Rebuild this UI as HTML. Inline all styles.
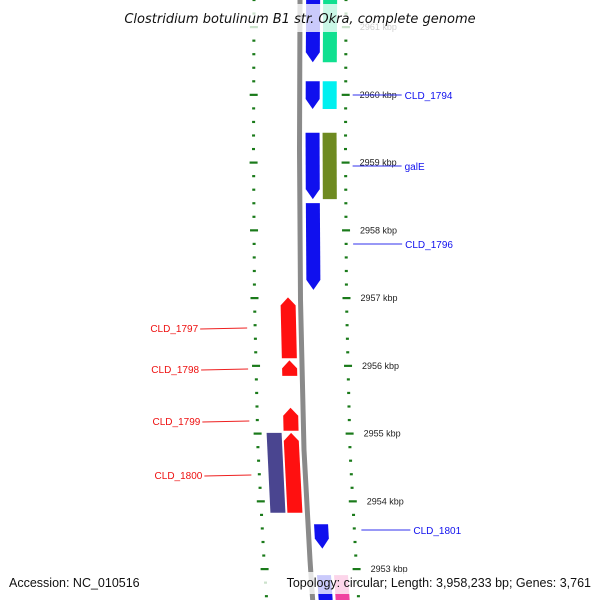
<!DOCTYPE html>
<html><head><meta charset="utf-8"><style>
html,body{margin:0;padding:0;background:#fff;width:600px;height:600px;overflow:hidden;}
svg{display:block;font-family:"Liberation Sans","DejaVu Sans",sans-serif;}
</style></head><body>
<svg id="c" width="600" height="600" viewBox="0 0 600 600">
<g id="g"></g>
</svg>
<script>
// data (kbp)
const tickKbp = [2961,2960,2959,2958,2957,2956,2955,2954,2953];
const geneNames = ["CLD_1793","CLD_1794","galE","CLD_1796","CLD_1797","CLD_1798","CLD_1799","CLD_1800","CLD_1801","CLD_1802"];
const geneStart = [2960.48,2959.79,2958.46,2957.12,2956.11,2955.85,2955.04,2953.83,2953.30,2952.40];
const geneEnd   = [2961.50,2960.20,2959.44,2958.40,2957.01,2956.08,2955.38,2955.01,2953.66,2952.91];
const geneStrand= [-1,-1,-1,-1,1,1,1,1,-1,-1];
const geneLabeled=[false,true,true,true,true,true,true,true,true,false];
const cogColor  = ["#10e090","#00f0f0","#6e8a20",null,null,null,null,null,null,"#f040a0"];
const extraStart=[2953.83];
const extraEnd  =[2955.01];
const labelY = {"CLD_1794":95,"galE":166,"CLD_1796":244,"CLD_1797":328,"CLD_1798":369,"CLD_1799":421,"CLD_1800":475,"CLD_1801":530};

const NS="http://www.w3.org/2000/svg";
const g=document.getElementById('g');
function yOf(k){return 27+(2961-k)*67.75;}
const bbPts=[[-20,300.5],[0,300],[150,299.5],[300,300.5],[450,304],[560,310],[620,314]];
function bb(y){for(let i=0;i<bbPts.length-1;i++){const a=bbPts[i],b=bbPts[i+1];if(y<=b[0]||i==bbPts.length-2){const t=(y-a[0])/(b[0]-a[0]);return a[1]+t*(b[1]-a[1]);}}}
function mk(tag,at,txt){const e=document.createElementNS(NS,tag);for(const k in at)e.setAttribute(k,at[k]);if(txt!=null)e.textContent=txt;g.appendChild(e);return e;}

let pts=[];for(let y=-10;y<=610;y+=10)pts.push(bb(y)+','+y);
let e=mk('polyline',{points:pts.join(' '),fill:'none',stroke:'#8a8a8a','stroke-width':5});


for(let k=2962.4;k>=2952.0;k-=0.2){
  const kr=Math.round(k*5)/5;const y=yOf(kr);const major=Math.abs(kr-Math.round(kr))<0.01;
  const xr=bb(y)+46, xl=bb(y)-46;
  const w=major?8:3;
  let t=mk('rect',{x:xr-w/2,y:y-1,width:w,height:2.2,fill:'#1a7a1a'});
  
  let t2=mk('rect',{x:xl-w/2,y:y-1,width:w,height:2.2,fill:'#1a7a1a'});
  
}
tickKbp.forEach(k=>{const y=yOf(k);
  let t=mk('text',{x:bb(y)+60,y:y+3,'font-size':9,fill:'#222'},k+' kbp');
  });

function band(s,en,o1,o2,dir,fill,tip){
  const yT=yOf(en),yB=yOf(s);let p;
  if(dir<0){const yb=Math.max(yT,yB-tip);
    p=[[bb(yT)+o1,yT],[bb(yT)+o2,yT],[bb(yb)+o2,yb],[bb(yB)+(o1+o2)/2,yB],[bb(yb)+o1,yb]];}
  else{const yt=Math.min(yB,yT+tip);
    p=[[bb(yT)+(o1+o2)/2,yT],[bb(yt)+o2,yt],[bb(yB)+o2,yB],[bb(yB)+o1,yB],[bb(yt)+o1,yt]];}
  return mk('polygon',{points:p.map(q=>q.join(',')).join(' '),fill:fill});
}
for(let i=0;i<geneNames.length;i++){
  let el;
  if(geneStrand[i]<0) el=band(geneStart[i],geneEnd[i],6,20,-1,'#1010ee',10);
  else el=band(geneStart[i],geneEnd[i],-20,-5,1,'#ff1010',8);
  
  if(cogColor[i]){let c=band(geneStart[i],geneEnd[i],23,37,0,cogColor[i],0);
    }
  if(geneLabeled[i]){
    const yl=labelY[geneNames[i]];
    if(geneStrand[i]<0){const x0=bb(yl)+53;
      let l=mk('line',{x1:x0,y1:yl,x2:x0+49,y2:yl,stroke:'#3030ee','stroke-width':1});
      
      let t=mk('text',{x:x0+52,y:yl+4,'font-size':10,fill:'#1010ee'},geneNames[i]);
      }
    else{const x0=bb(yl)-54;
      let l=mk('line',{x1:x0,y1:yl,x2:x0-47,y2:yl+1,stroke:'#ee2020','stroke-width':1});
      
      let t=mk('text',{x:x0-49,y:yl+4,'font-size':10,fill:'#ee1010','text-anchor':'end'},geneNames[i]);
      }
  }
}
for(let i=0;i<extraStart.length;i++){
  let el=band(extraStart[i],extraEnd[i],-37,-22,0,'#4a4590',0);
  
}
let r1=mk('rect',{x:112,y:4,width:376,height:28,fill:'#fff','fill-opacity':0.78});

let tt=mk('text',{x:300,y:23,'font-size':13,'font-style':'italic','text-anchor':'middle',fill:'#111','font-family':'DejaVu Sans, sans-serif'},'Clostridium botulinum B1 str. Okra, complete genome');

let r2=mk('rect',{x:258,y:572,width:338,height:22,fill:'#fff','fill-opacity':0.78});

let a=mk('text',{x:9,y:587,'font-size':12.5,fill:'#111'},'Accession: NC_010516');

let b=mk('text',{x:591,y:587,'font-size':12.5,fill:'#111','text-anchor':'end'},'Topology: circular; Length: 3,958,233 bp; Genes: 3,761');

</script>
</body></html>
